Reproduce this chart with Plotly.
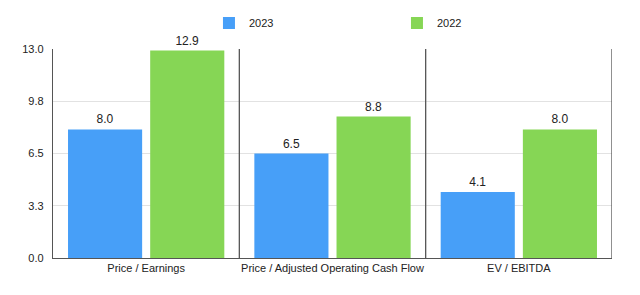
import plotly.graph_objects as go

categories = ["Price / Earnings", "Price / Adjusted Operating Cash Flow", "EV / EBITDA"]
values_2023 = [8.0, 6.5, 4.1]
values_2022 = [12.9, 8.8, 8.0]
tick_vals = [0, 3.25, 6.5, 9.75, 13.0]
tick_text = ["0.0", "3.3", "6.5", "9.8", "13.0"]

font_family = "Liberation Sans, Arial, Helvetica, sans-serif"

fig = go.Figure()
fig.add_trace(go.Bar(
    name="2023", x=categories, y=values_2023,
    marker=dict(color="#479ff8", line=dict(width=0)),
    text=[f"{v:.1f}" for v in values_2023], textposition="outside",
    textfont=dict(size=12, color="#222222"), cliponaxis=False,
))
fig.add_trace(go.Bar(
    name="2022", x=categories, y=values_2022,
    marker=dict(color="#86d655", line=dict(width=0)),
    text=[f"{v:.1f}" for v in values_2022], textposition="outside",
    textfont=dict(size=12, color="#222222"), cliponaxis=False,
))

# category separators
for xv in [0.5, 1.5, 2.5]:
    fig.add_shape(type="line", xref="x", yref="paper", x0=xv, x1=xv, y0=0, y1=1,
                  line=dict(color="#555555", width=1.3), layer="above")

fig.update_layout(
    width=640, height=295,
    margin=dict(l=53, r=28, t=49, b=37, autoexpand=False),
    paper_bgcolor="white", plot_bgcolor="white",
    font=dict(family=font_family, size=11, color="#222222"),
    barmode="group", bargap=0.118, bargroupgap=0.098,
    showlegend=True,
    legend=dict(orientation="h", x=0.279, xanchor="left", y=1.125, yanchor="middle",
                font=dict(size=11), entrywidth=143, itemwidth=30,
                traceorder="normal"),
    xaxis=dict(showgrid=False, showline=True, linecolor="#555555", linewidth=1.3,
               ticks="", tickfont=dict(size=11), range=[-0.5, 2.5]),
    yaxis=dict(range=[0, 13.0], tickvals=tick_vals, ticktext=tick_text,
               showgrid=True, gridcolor="#e2e2e2", gridwidth=1,
               showline=True, linecolor="#555555", linewidth=1.3,
               ticks="", tickfont=dict(size=11), zeroline=False,
               ticklabelstandoff=6),
)

fig.write_html("out.html")
